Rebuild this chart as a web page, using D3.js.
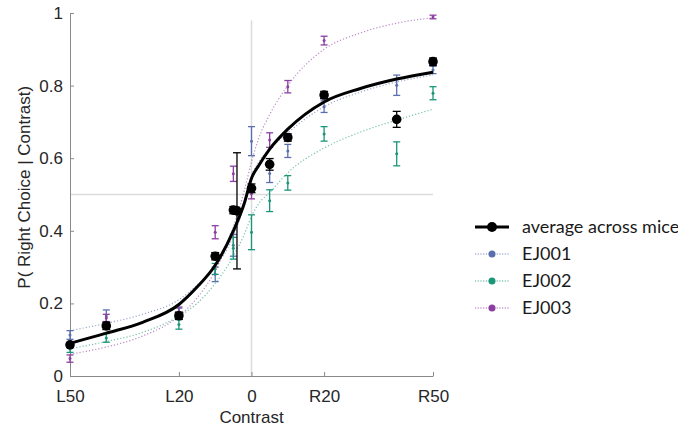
<!DOCTYPE html>
<html>
<head>
<meta charset="utf-8">
<script src="https://cdn.jsdelivr.net/npm/d3@7"></script>
<style>
  body { margin: 0; background: #fff; }
  svg { display: block; }
  .axis text { font-family: "Liberation Sans", Arial, sans-serif; font-size: 17px; fill: #262626; }
  .axis path, .axis line { stroke: #8a8a8a; }
</style>
</head>
<body>
<script>
// contrasts (negative = left)
var contrasts = [-50, -40, -20, -10, -5, -4, 0, 5, 10, 20, 40, 50];
var xTicks = [-50, -20, 0, 20, 50];
var xTickLabels = ["L50", "L20", "0", "R20", "R50"];
var yTicks = [0, 0.2, 0.4, 0.6, 0.8, 1];
var yTickLabels = ["0", "0.2", "0.4", "0.6", "0.8", "1"];

var avgP   = [0.086, 0.138, 0.166, 0.33, 0.457, 0.455, 0.517, 0.583, 0.657, 0.774, 0.707, 0.866];
var avgErr = [0.006, 0.01, 0.01, 0.01, 0.01, 0.16, 0.012, 0.016, 0.01, 0.01, 0.022, 0.01];

var ej001P   = [0.113, 0.165, 0.175, 0.28, 0.36, null, 0.647, 0.558, 0.62, 0.742, 0.801, 0.843];
var ej001Err = [0.012, 0.017, 0.012, 0.02, 0.03, null, 0.04, 0.025, 0.018, 0.016, 0.028, 0.01];
var ej002P   = [0.075, 0.105, 0.142, 0.295, 0.352, null, 0.396, 0.483, 0.532, 0.667, 0.612, 0.779];
var ej002Err = [0.01, 0.012, 0.013, 0.015, 0.03, null, 0.048, 0.03, 0.02, 0.02, 0.033, 0.018];
var ej003P   = [0.048, 0.16, 0.177, 0.396, 0.557, null, 0.502, 0.65, 0.797, 0.924, null, 0.989];
var ej003Err = [0.01, 0.01, 0.013, 0.018, 0.021, null, 0.014, 0.02, 0.017, 0.012, null, 0.005];

// fitted curves
var fitX     = [-50, -40, -30, -20, -15, -10, -5, -2, 0, 2, 5, 10, 20, 30, 40, 50];
var avgFit   = [0.09, 0.118, 0.148, 0.197, 0.245, 0.305, 0.40, 0.475, 0.545, 0.58, 0.625, 0.68, 0.755, 0.792, 0.818, 0.837];
var ej001Fit = [0.125, 0.145, 0.17, 0.21, 0.25, 0.3, 0.385, 0.47, 0.55, 0.59, 0.625, 0.67, 0.742, 0.782, 0.81, 0.829];
var ej002Fit = [0.075, 0.095, 0.12, 0.165, 0.2, 0.255, 0.33, 0.39, 0.44, 0.475, 0.505, 0.56, 0.628, 0.672, 0.705, 0.735];
var ej003Fit = [0.06, 0.08, 0.11, 0.165, 0.215, 0.29, 0.41, 0.51, 0.59, 0.655, 0.72, 0.8, 0.9, 0.945, 0.972, 0.987];

var mice = [
  {name: "EJ001", color: "#5a6fae", p: ej001P, err: ej001Err, fit: ej001Fit},
  {name: "EJ002", color: "#1b9678", p: ej002P, err: ej002Err, fit: ej002Fit},
  {name: "EJ003", color: "#8c3fa0", p: ej003P, err: ej003Err, fit: ej003Fit}
];

var svg = d3.select("body").append("svg").attr("width", 678).attr("height", 429);

var x = d3.scaleLinear().domain([-50, 50]).range([70, 433]);
var y = d3.scaleLinear().domain([0, 1]).range([376, 13]);

// reference lines
svg.append("line").attr("x1", x(0)).attr("x2", x(0)).attr("y1", y(0)).attr("y2", y(0.98))
  .attr("stroke", "#dcdcdc").attr("stroke-width", 1.5);
svg.append("line").attr("x1", x(-50)).attr("x2", x(50)).attr("y1", y(0.5)).attr("y2", y(0.5))
  .attr("stroke", "#dcdcdc").attr("stroke-width", 1.5);

// axes
var xAxis = d3.axisBottom(x).tickValues(xTicks).tickFormat(function(d, i) { return xTickLabels[i]; })
  .tickSizeInner(-4).tickSizeOuter(0).tickPadding(14);
var yAxis = d3.axisLeft(y).tickValues(yTicks).tickFormat(function(d, i) { return yTickLabels[i]; })
  .tickSizeInner(-4).tickSizeOuter(0).tickPadding(7);
svg.append("g").attr("class", "axis").attr("transform", "translate(0," + y(0) + ")").call(xAxis);
svg.append("g").attr("class", "axis").attr("transform", "translate(" + x(-50) + ",0)").call(yAxis);

svg.append("text").attr("x", (x(-50) + x(50)) / 2).attr("y", 423).attr("text-anchor", "middle")
  .style("font-family", "Liberation Sans, Arial, sans-serif").style("font-size", "17px").style("fill", "#262626")
  .text("Contrast");
svg.append("text").attr("transform", "translate(30," + y(0.52) + ") rotate(-90)").attr("text-anchor", "middle")
  .style("font-family", "Liberation Sans, Arial, sans-serif").style("font-size", "17px").style("fill", "#262626")
  .text("P( Right Choice | Contrast)");

var line = d3.line().x(function(d) { return x(d[0]); }).y(function(d) { return y(d[1]); }).curve(d3.curveMonotoneX);

// per-mouse dotted fits, error bars and points
mice.forEach(function(m) {
  svg.append("path").datum(d3.zip(fitX, m.fit)).attr("d", line).attr("fill", "none")
    .attr("stroke", m.color).attr("stroke-opacity", 0.6).attr("stroke-width", 1.2).attr("stroke-dasharray", "1.2,2");
  var pts = contrasts.map(function(c, i) { return {c: c, p: m.p[i], e: m.err[i]}; })
    .filter(function(d) { return d.p != null; });
  var g = svg.append("g").attr("stroke", m.color).attr("stroke-width", 1.3);
  g.selectAll(".v").data(pts).enter().append("line")
    .attr("x1", function(d) { return x(d.c); }).attr("x2", function(d) { return x(d.c); })
    .attr("y1", function(d) { return y(d.p - d.e); }).attr("y2", function(d) { return y(d.p + d.e); });
  [-1, 1].forEach(function(s) {
    g.selectAll(".cap" + s).data(pts).enter().append("line")
      .attr("x1", function(d) { return x(d.c) - 3.5; }).attr("x2", function(d) { return x(d.c) + 3.5; })
      .attr("y1", function(d) { return y(d.p + s * d.e); }).attr("y2", function(d) { return y(d.p + s * d.e); });
  });
  svg.selectAll(null).data(pts).enter().append("circle")
    .attr("cx", function(d) { return x(d.c); }).attr("cy", function(d) { return y(d.p); })
    .attr("r", 1.5).attr("fill", m.color);
});

// average fit and points
svg.append("path").datum(d3.zip(fitX, avgFit)).attr("d", line).attr("fill", "none")
  .attr("stroke", "#000").attr("stroke-width", 3);
var avgPts = contrasts.map(function(c, i) { return {c: c, p: avgP[i], e: avgErr[i]}; });
var ga = svg.append("g").attr("stroke", "#000").attr("stroke-width", 1.3);
ga.selectAll(".v").data(avgPts).enter().append("line")
  .attr("x1", function(d) { return x(d.c); }).attr("x2", function(d) { return x(d.c); })
  .attr("y1", function(d) { return y(d.p - d.e); }).attr("y2", function(d) { return y(d.p + d.e); });
[-1, 1].forEach(function(s) {
  ga.selectAll(".cap" + s).data(avgPts).enter().append("line")
    .attr("x1", function(d) { return x(d.c) - 4; }).attr("x2", function(d) { return x(d.c) + 4; })
    .attr("y1", function(d) { return y(d.p + s * d.e); }).attr("y2", function(d) { return y(d.p + s * d.e); });
});
svg.selectAll(null).data(avgPts).enter().append("circle")
  .attr("cx", function(d) { return x(d.c); }).attr("cy", function(d) { return y(d.p); })
  .attr("r", 4.8).attr("fill", "#000");

// legend
var legendItems = [{name: "average across mice", color: "#000", avg: true}].concat(mice);
var lg = svg.append("g");
legendItems.forEach(function(d, i) {
  var ly = 227 + i * 27;
  lg.append("line").attr("x1", 475).attr("x2", 509).attr("y1", ly).attr("y2", ly)
    .attr("stroke", d.color).attr("stroke-width", d.avg ? 3 : 1.2)
    .attr("stroke-dasharray", d.avg ? null : "1.2,1.5").attr("stroke-opacity", d.avg ? 1 : 0.8);
  lg.append("circle").attr("cx", 492).attr("cy", ly).attr("r", d.avg ? 5 : 3.5).attr("fill", d.color);
  lg.append("text").attr("x", 522).attr("y", ly).attr("dy", "0.35em")
    .style("font-family", "Lato, sans-serif").style("font-size", "18px").style("fill", "#1a1a1a")
    .text(d.name);
});
</script>
</body>
</html>
